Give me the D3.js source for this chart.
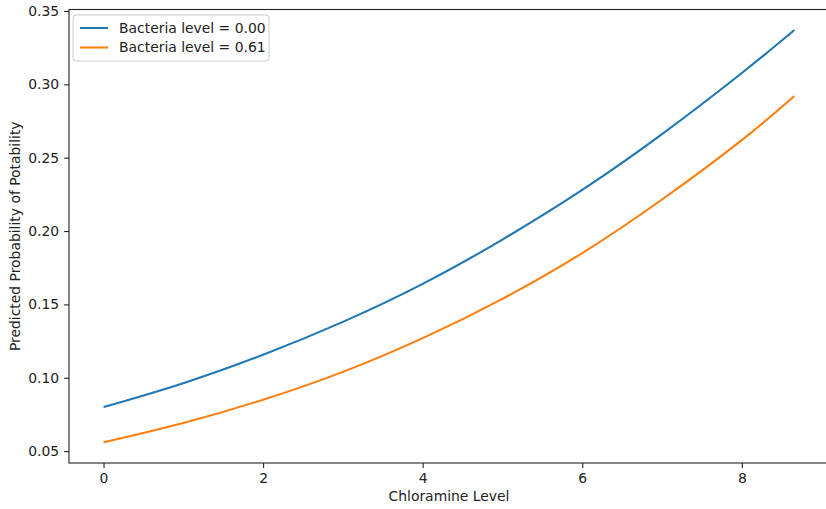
<!DOCTYPE html>
<html>
<head>
<meta charset="utf-8">
<script src="https://cdn.jsdelivr.net/npm/d3@7"></script>
<style>
  body { margin: 0; background: #fff; }
  text { font-family: "DejaVu Sans", sans-serif; fill: #222; }
</style>
</head>
<body>
<div id="chart"></div>
<script>
// values
const chloramine = [0, 1, 2, 3, 4, 5, 6, 7, 8, 8.66]
const bacteria0 = [0.080, 0.0963, 0.1157, 0.1381, 0.164, 0.1942, 0.228, 0.266, 0.3077, 0.337]
const bacteria61 = [0.056, 0.0692, 0.085, 0.104, 0.127, 0.1538, 0.185, 0.2215, 0.262, 0.292]
const seriesNames = ['Bacteria level = 0.00', 'Bacteria level = 0.61']
const xTicks = [0, 2, 4, 6, 8]
const yTicks = [0.05, 0.10, 0.15, 0.20, 0.25, 0.30, 0.35]

const width = 826
const height = 509
const margin = {left: 69, top: 9.5, right: -3, bottom: 46}
const colors = ['#1f77b4', '#ff7f0e']
const fontSize = 13.9

const svg = d3.select('#chart')
  .append('svg')
  .attr('width', width)
  .attr('height', height)

const x = d3.scaleLinear()
  .domain([-0.433, 9.093])
  .range([margin.left, width - margin.right])

const y = d3.scaleLinear()
  .domain([0.0419, 0.351])
  .range([height - margin.bottom, margin.top])

const series = [bacteria0, bacteria61].map((vals, i) => ({
  name: seriesNames[i],
  color: colors[i],
  points: vals.map((v, j) => [chloramine[j], v])
}))

const line = d3.line()
  .x(d => x(d[0]))
  .y(d => y(d[1]))
  .curve(d3.curveNatural)

svg.selectAll('path.series')
  .data(series)
  .enter()
  .append('path')
  .attr('class', 'series')
  .attr('fill', 'none')
  .attr('stroke', d => d.color)
  .attr('stroke-width', 2.1)
  .attr('d', d => line(d.points))

// axes
const xAxis = svg.append('g')
  .attr('transform', `translate(0, ${height - margin.bottom})`)
  .call(d3.axisBottom(x).tickValues(xTicks).tickFormat(d3.format('d')).tickSizeOuter(0).tickSize(4.9).tickPadding(4.9))
const yAxis = svg.append('g')
  .attr('transform', `translate(${margin.left}, 0)`)
  .call(d3.axisLeft(y).tickValues(yTicks).tickFormat(d3.format('.2f')).tickSizeOuter(0).tickSize(4.9).tickPadding(4.9))

;[xAxis, yAxis].forEach(g => {
  g.select('.domain').remove()
  g.selectAll('line').attr('stroke', '#222').attr('stroke-width', 1.1)
  g.selectAll('text').attr('font-size', fontSize).attr('font-family', 'DejaVu Sans').attr('fill', '#222')
})

// frame
svg.append('rect')
  .attr('x', margin.left)
  .attr('y', margin.top)
  .attr('width', width - margin.right - margin.left)
  .attr('height', height - margin.bottom - margin.top)
  .attr('fill', 'none')
  .attr('stroke', '#222')
  .attr('stroke-width', 1.1)

// axis labels
svg.append('text')
  .attr('x', (margin.left + width - margin.right) / 2)
  .attr('y', 501)
  .attr('text-anchor', 'middle')
  .attr('font-size', fontSize)
  .text('Chloramine Level')

svg.append('text')
  .attr('transform', `translate(20, ${(margin.top + height - margin.bottom) / 2}) rotate(-90)`)
  .attr('text-anchor', 'middle')
  .attr('font-size', fontSize)
  .text('Predicted Probability of Potability')

// legend
const legend = svg.append('g').attr('transform', 'translate(73, 15)')
legend.append('rect')
  .attr('width', 196)
  .attr('height', 46)
  .attr('rx', 3)
  .attr('fill', '#fff')
  .attr('fill-opacity', 0.8)
  .attr('stroke', '#ccc')
  .attr('stroke-width', 1)

const items = legend.selectAll('g.item')
  .data(series)
  .enter()
  .append('g')
  .attr('class', 'item')
  .attr('transform', (d, i) => `translate(0, ${13 + i * 19.5})`)
items.append('line')
  .attr('x1', 7).attr('x2', 35)
  .attr('stroke', d => d.color)
  .attr('stroke-width', 2.1)
items.append('text')
  .attr('x', 46)
  .attr('dy', '0.35em')
  .attr('font-size', fontSize)
  .text(d => d.name)
</script>
</body>
</html>
